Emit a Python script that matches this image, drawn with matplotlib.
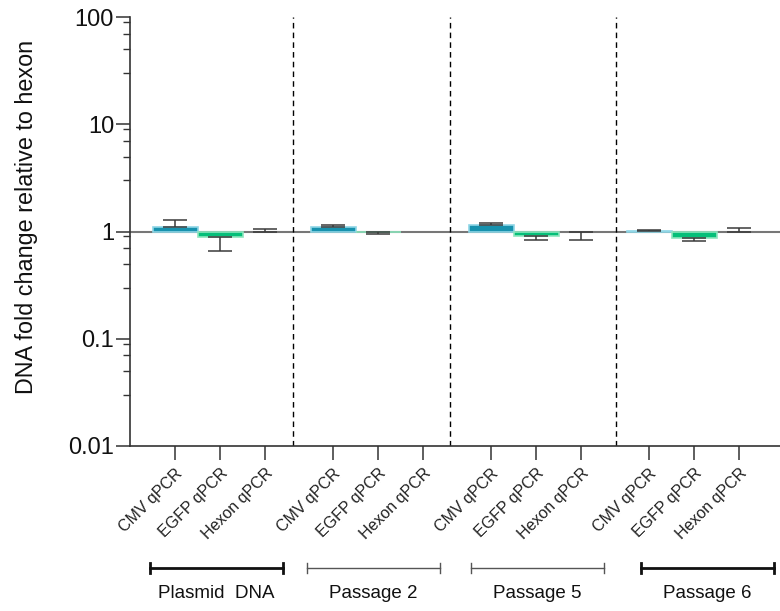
import matplotlib
matplotlib.use("Agg")
import matplotlib.pyplot as plt
import matplotlib.transforms as mtransforms
from matplotlib.ticker import FixedLocator, NullFormatter
import numpy as np

plt.rcParams['font.family'] = ['Liberation Sans', 'DejaVu Sans']

groups = ['Plasmid  DNA', 'Passage 2', 'Passage 5', 'Passage 6']
assays = ['CMV qPCR', 'EGFP qPCR', 'Hexon qPCR']

# mean fold change per group
cmv_mean = [1.09, 1.10, 1.155, 1.01]
egfp_mean = [0.885, 0.98, 0.905, 0.87]
hexon_mean = [1.0, 1.0, 1.0, 1.0]

# where the error bar ends (one-sided, away from 1)
cmv_err_end = [1.28, 1.15, 1.21, 1.025]
egfp_err_end = [0.665, 0.95, 0.84, 0.81]
hexon_err_end = [1.065, 1.0, 0.84, 1.075]

bar_colors = ['#1792ae', '#05bf79', '#888888']
edge_colors = ['#8fd6e6', '#8ce6bd', '#888888']

fig = plt.figure(figsize=(7.8, 6.11), dpi=100)
ax = fig.add_axes([130 / 780, 1 - 446 / 611, 650 / 780, (446 - 17) / 611])

group_step = 3.5
means = [cmv_mean, egfp_mean, hexon_mean]
ends = [cmv_err_end, egfp_err_end, hexon_err_end]

xs_all = []
labels_all = []
for g in range(len(groups)):
    for i in range(len(assays)):
        x = g * group_step + i
        xs_all.append(x)
        labels_all.append(assays[i])
        m = means[i][g]
        e = ends[i][g]
        if abs(m - 1) > 1e-6:
            ax.bar(x, m - 1, bottom=1, width=1.0, color=bar_colors[i],
                   edgecolor=edge_colors[i], linewidth=1.2, zorder=2)
        if abs(e - m) > 1e-6:
            if e > m:
                yerr = [[0], [e - m]]
            else:
                yerr = [[m - e], [0]]
            ax.errorbar(x, m, yerr=yerr, fmt='none', ecolor='#3a3a3a',
                        elinewidth=1.1, capsize=8.3, capthick=1.1, zorder=3)

ax.axhline(1, color='#777777', lw=1.5, zorder=1)

for xd in [2.61, 6.1, 9.77]:
    ax.axvline(xd, color='black', lw=1, ls=(0, (4, 3)), zorder=1)

ax.set_yscale('log')
ax.set_ylim(0.01, 100)
ax.set_xlim(-1.0, 13.4)
ax.set_yticks([0.01, 0.1, 1, 10, 100])
ax.set_yticklabels(['0.01', '0.1', '1', '10', '100'], fontsize=17, color='#111111')
minors = [m * 10.0 ** k for k in range(-2, 2) for m in (3, 5, 7, 9)]
ax.yaxis.set_minor_locator(FixedLocator(minors))
ax.yaxis.set_minor_formatter(NullFormatter())
ax.tick_params(axis='y', which='major', length=10, width=1.1, color='#333333', pad=1.5)
ax.tick_params(axis='y', which='minor', length=5, width=1.0, color='#333333')

ax.set_xticks(xs_all)
ax.set_xticklabels(labels_all, rotation=45, ha='right', va='center',
                   rotation_mode='anchor', fontsize=11.5, color='#222222')
ax.tick_params(axis='x', length=10, width=1.1, color='#333333', pad=8)
shift = mtransforms.ScaledTranslation(5 / 100, 0, fig.dpi_scale_trans)
for lab in ax.get_xticklabels():
    lab.set_transform(lab.get_transform() + shift)

for s in ['top', 'right']:
    ax.spines[s].set_visible(False)
for s in ['left', 'bottom']:
    ax.spines[s].set_color('#333333')
    ax.spines[s].set_linewidth(1.2)

ax.set_ylabel('DNA fold change relative to hexon', fontsize=16.8, color='#111111')
ax.yaxis.set_label_coords(-0.142, 0.535)

# group brackets below the axis
trans = mtransforms.blended_transform_factory(ax.transData, fig.transFigure)
bracket_centers = [0.92, 4.39, 8.02, 11.79]
bracket_half = 1.47
bracket_lw = [2.0, 1.0, 1.0, 2.0]
bracket_col = ['#111111', '#555555', '#555555', '#111111']
yb = 1 - 568 / 611
cap = 5 / 611
for c, name, lw, col in zip(bracket_centers, groups, bracket_lw, bracket_col):
    x0, x1 = c - bracket_half, c + bracket_half
    ax.plot([x0, x1], [yb, yb], transform=trans, color=col, lw=lw, clip_on=False)
    ax.plot([x0, x0], [yb - cap, yb + cap], transform=trans, color=col, lw=lw, clip_on=False)
    ax.plot([x1, x1], [yb - cap, yb + cap], transform=trans, color=col, lw=lw, clip_on=False)
    ax.text(c, 1 - 593 / 611, name, transform=trans, ha='center', va='center',
            fontsize=13.5, color='#111111')

fig.savefig('out.png', dpi=100)
